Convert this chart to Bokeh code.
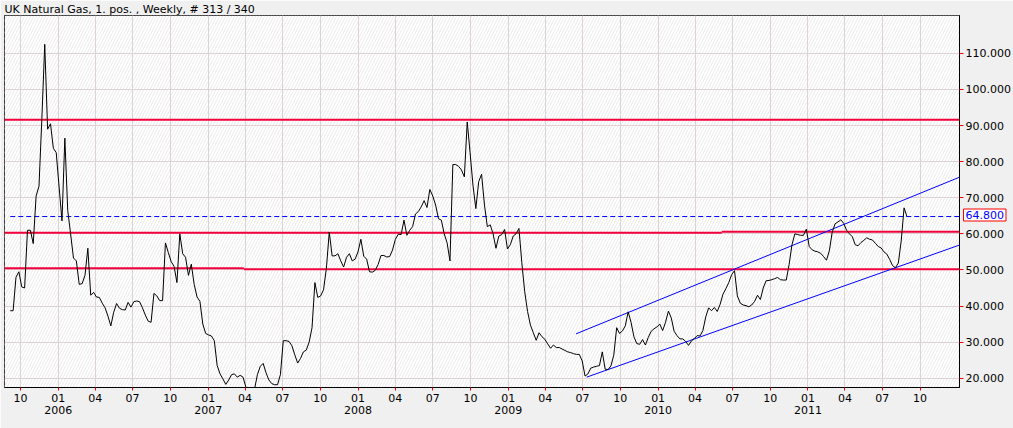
import pandas as pd
from bokeh.plotting import figure
from bokeh.models import (Range1d, LinearAxis, FixedTicker, Grid, PrintfTickFormatter,
                          BoxAnnotation, ColumnDataSource, Title)
from bokeh.embed import file_html
from bokeh.resources import INLINE

# ---------------- data ----------------
title_text = "UK Natural Gas, 1. pos. , Weekly, # 313 / 340"
first_week = "2005-09-06"
price = [
    38.7, 38.7, 48.0, 49.5, 45.3, 45.0, 61.0, 61.0, 57.3, 70.5,
    73.2, 92.0, 112.5, 89.0, 90.5, 83.7, 82.5, 73.0, 63.6, 86.5,
    66.5, 60.0, 53.3, 52.5, 46.0, 46.2, 48.5, 56.0, 43.0, 43.8,
    42.5, 42.4, 40.8, 39.5, 37.2, 34.5, 38.3, 40.7, 39.4, 39.0,
    38.9, 41.0, 39.7, 41.2, 41.4, 41.2, 39.5, 37.5, 35.8, 35.5,
    43.5, 42.8, 41.5, 41.5, 57.5, 54.8, 52.3, 51.0, 46.5, 60.0,
    54.5, 53.5, 48.5, 51.6, 46.0, 42.5, 41.3, 35.0, 32.4, 32.0,
    31.7, 30.4, 23.5, 21.2, 19.8, 18.3, 19.5, 21.0, 21.2, 20.3,
    20.8, 20.3, 17.5, 16.0, 15.5, 17.0, 21.0, 23.3, 24.1, 21.5,
    19.5, 18.5, 18.2, 18.2, 21.0, 30.4, 30.4, 30.2, 29.0, 26.5,
    24.2, 25.5, 27.3, 27.8, 30.0, 34.0, 46.5, 42.4, 42.8, 44.5,
    50.5, 60.5, 53.9, 53.9, 54.5, 52.5, 50.8, 53.5, 54.5, 52.5,
    53.0, 55.0, 58.5, 53.8, 53.0, 49.5, 49.4, 49.9, 51.5, 54.0,
    54.0, 53.6, 53.7, 55.5, 58.5, 59.9, 59.8, 63.8, 59.6, 61.0,
    62.0, 65.5, 66.2, 67.5, 69.2, 67.3, 72.3, 70.5, 68.0, 64.2,
    63.8, 60.0, 57.5, 52.5, 79.2, 79.2, 78.7, 77.7, 75.8, 91.0,
    82.5, 73.5, 67.0, 74.5, 76.5, 68.0, 62.0, 62.5, 60.0, 56.0,
    59.4, 59.8, 61.2, 55.8, 57.0, 59.4, 60.0, 61.5, 52.0, 44.0,
    38.5, 34.7, 32.6, 30.5, 32.6, 31.5, 30.8, 29.5, 28.3, 29.2,
    28.5, 28.5, 28.1, 27.7, 27.3, 27.1, 26.8, 26.6, 26.6, 24.8,
    20.6, 21.2, 22.8, 23.1, 23.3, 23.5, 27.3, 22.5, 22.4, 23.4,
    26.4, 34.0, 32.4, 33.1, 34.5, 38.4, 35.5, 31.5, 29.6, 29.4,
    30.7, 29.2, 31.3, 33.0, 33.7, 34.2, 35.0, 33.2, 35.5, 38.6,
    36.7, 33.0, 31.8, 30.9, 30.9, 30.2, 29.1, 30.3, 31.0, 31.8,
    31.7, 33.2, 37.0, 39.5, 38.7, 39.6, 38.5, 40.5, 43.3, 44.8,
    46.5, 48.7, 49.8, 42.8, 40.8, 40.3, 40.1, 39.8, 40.3, 41.3,
    43.0, 41.8, 45.0, 47.0, 47.1, 47.3, 47.6, 47.9, 47.3, 47.2,
    47.2, 51.5, 57.0, 60.0, 59.8, 59.6, 59.6, 61.3, 56.5, 55.6,
    55.2, 55.0, 54.6, 53.7, 52.7, 55.3, 60.5, 62.8, 63.3, 63.9,
    62.9, 61.0, 60.0, 59.2, 57.0, 56.7, 57.6, 58.2, 58.9, 58.5,
    58.3, 57.4, 56.5, 56.1, 55.0, 54.4, 52.9, 51.2, 50.6, 51.9,
    58.0, 67.2, 64.8,
]
x_view = ["2005-08-23", "2012-01-05"]
y_view = [17.43, 120.5]
y_ticks = [20, 30, 40, 50, 60, 70, 80, 90, 100, 110]
quarter_ticks = ["2005-10-01", "2006-01-01", "2006-04-01", "2006-07-01", "2006-10-01",
                 "2007-01-01", "2007-04-01", "2007-07-01", "2007-10-01",
                 "2008-01-01", "2008-04-01", "2008-07-01", "2008-10-01",
                 "2009-01-01", "2009-04-01", "2009-07-01", "2009-10-01",
                 "2010-01-01", "2010-04-01", "2010-07-01", "2010-10-01",
                 "2011-01-01", "2011-04-01", "2011-07-01", "2011-10-01"]
year_ticks = ["2006-01-01", "2007-01-01", "2008-01-01", "2009-01-01", "2010-01-01", "2011-01-01"]

# horizontal support / resistance levels (red)
level_start = ["2005-08-23", "2005-08-23", "2010-06-05", "2005-08-23", "2007-03-29"]
level_end = ["2012-01-05", "2010-06-05", "2012-01-05", "2007-03-29", "2012-01-05"]
level_value = [91.6, 60.3, 60.6, 50.5, 50.2]

# trend channel (blue)
channel_start = ["2009-06-15", "2009-07-11"]
channel_start_value = [32.3, 20.3]
channel_end = ["2012-01-05", "2012-01-05"]
channel_end_value = [75.7, 56.9]


def ms(d):
    return int(pd.Timestamp(d).value // 10**6)


dates = pd.date_range(first_week, periods=len(price), freq="7D")
last = price[-1]

FONT = "DejaVu Sans"
RED = "#f2003c"

p = figure(width=1013, height=428, output_backend="svg", toolbar_location=None,
           x_axis_type=None, y_axis_type=None,
           x_range=Range1d(ms(x_view[0]), ms(x_view[1])),
           y_range=Range1d(y_view[0], y_view[1]),
           min_border_left=4, min_border_right=53, min_border_top=14, min_border_bottom=41)
p.background_fill_color = "white"
p.border_fill_color = "#f0f0f0"
p.outline_line_color = "black"
p.outline_line_width = 1

p.title.text = title_text
p.title.text_font = FONT
p.title.text_font_size = "11px"
p.title.text_font_style = "normal"
p.title.text_color = "black"
p.title.standoff = 0
p.title.offset = 0
p.title.align = "left"

# faint diagonal hatch background
p.add_layout(BoxAnnotation(fill_color="white", fill_alpha=1.0, line_color=None,
                           hatch_pattern="/", hatch_color="#ececec", hatch_weight=1,
                           hatch_scale=6, level="underlay"))

# axes
q_ticker = FixedTicker(ticks=[ms(d) for d in quarter_ticks])
month_axis = LinearAxis(ticker=q_ticker,
                        major_label_overrides={ms(d): f"{pd.Timestamp(d).month:02d}" for d in quarter_ticks},
                        major_tick_line_color="red", major_tick_in=0, major_tick_out=3,
                        minor_tick_line_color=None, axis_line_color="black",
                        major_label_standoff=3, major_label_text_font=FONT,
                        major_label_text_font_size="11px", major_label_text_color="black")
p.add_layout(month_axis, "below")

year_axis = LinearAxis(ticker=FixedTicker(ticks=[ms(d) for d in year_ticks]),
                       major_label_overrides={ms(d): str(pd.Timestamp(d).year) for d in year_ticks},
                       major_tick_line_color=None, minor_tick_line_color=None,
                       axis_line_color=None, major_tick_in=0, major_tick_out=0,
                       major_label_standoff=1, major_label_text_font=FONT,
                       major_label_text_font_size="11px", major_label_text_color="black")
p.add_layout(year_axis, "below")

y_ticker = FixedTicker(ticks=y_ticks)
right_axis = LinearAxis(ticker=y_ticker, formatter=PrintfTickFormatter(format="%.3f"),
                        major_tick_line_color="red", major_tick_in=0, major_tick_out=4,
                        minor_tick_line_color=None, axis_line_color="black",
                        major_label_standoff=2, major_label_text_font=FONT,
                        major_label_text_font_size="11px", major_label_text_color="black")
p.add_layout(right_axis, "right")

# last-price tag (boxed), laid out in the top panel and pulled down next to the price scale
tag = Title(text=f"{last:.3f}", align="left", offset=959, standoff=-411,
            vertical_align="bottom", text_color="blue", text_font=FONT,
            text_font_size="11px", text_font_style="normal",
            border_line_color="red", border_line_width=1,
            background_fill_color="white")
try:
    tag.padding = 2
except Exception:
    pass
p.add_layout(tag, "above")

GRID = "#ddd3d6"
p.add_layout(Grid(dimension=0, ticker=q_ticker, grid_line_color=GRID, grid_line_width=1))
p.add_layout(Grid(dimension=1, ticker=y_ticker, grid_line_color=GRID, grid_line_width=1))

# red levels
lvl = ColumnDataSource(dict(x0=pd.to_datetime(level_start), x1=pd.to_datetime(level_end),
                            y=level_value))
p.segment(x0="x0", y0="y", x1="x1", y1="y", source=lvl, line_color=RED, line_width=2)

# last-price dashed line
p.segment(x0=[dates[0]], y0=[last], x1=[pd.Timestamp(x_view[1])], y1=[last],
          line_color="blue", line_width=1, line_dash="5 3")

# trend channel
ch = ColumnDataSource(dict(x0=pd.to_datetime(channel_start), y0=channel_start_value,
                           x1=pd.to_datetime(channel_end), y1=channel_end_value))
p.segment(x0="x0", y0="y0", x1="x1", y1="y1", source=ch, line_color="blue", line_width=1)

# price line
src = ColumnDataSource(dict(date=dates, price=price))
p.line("date", "price", source=src, line_color="black", line_width=1)

open("out.html", "w").write(file_html(p, INLINE, title="UK Natural Gas"))
